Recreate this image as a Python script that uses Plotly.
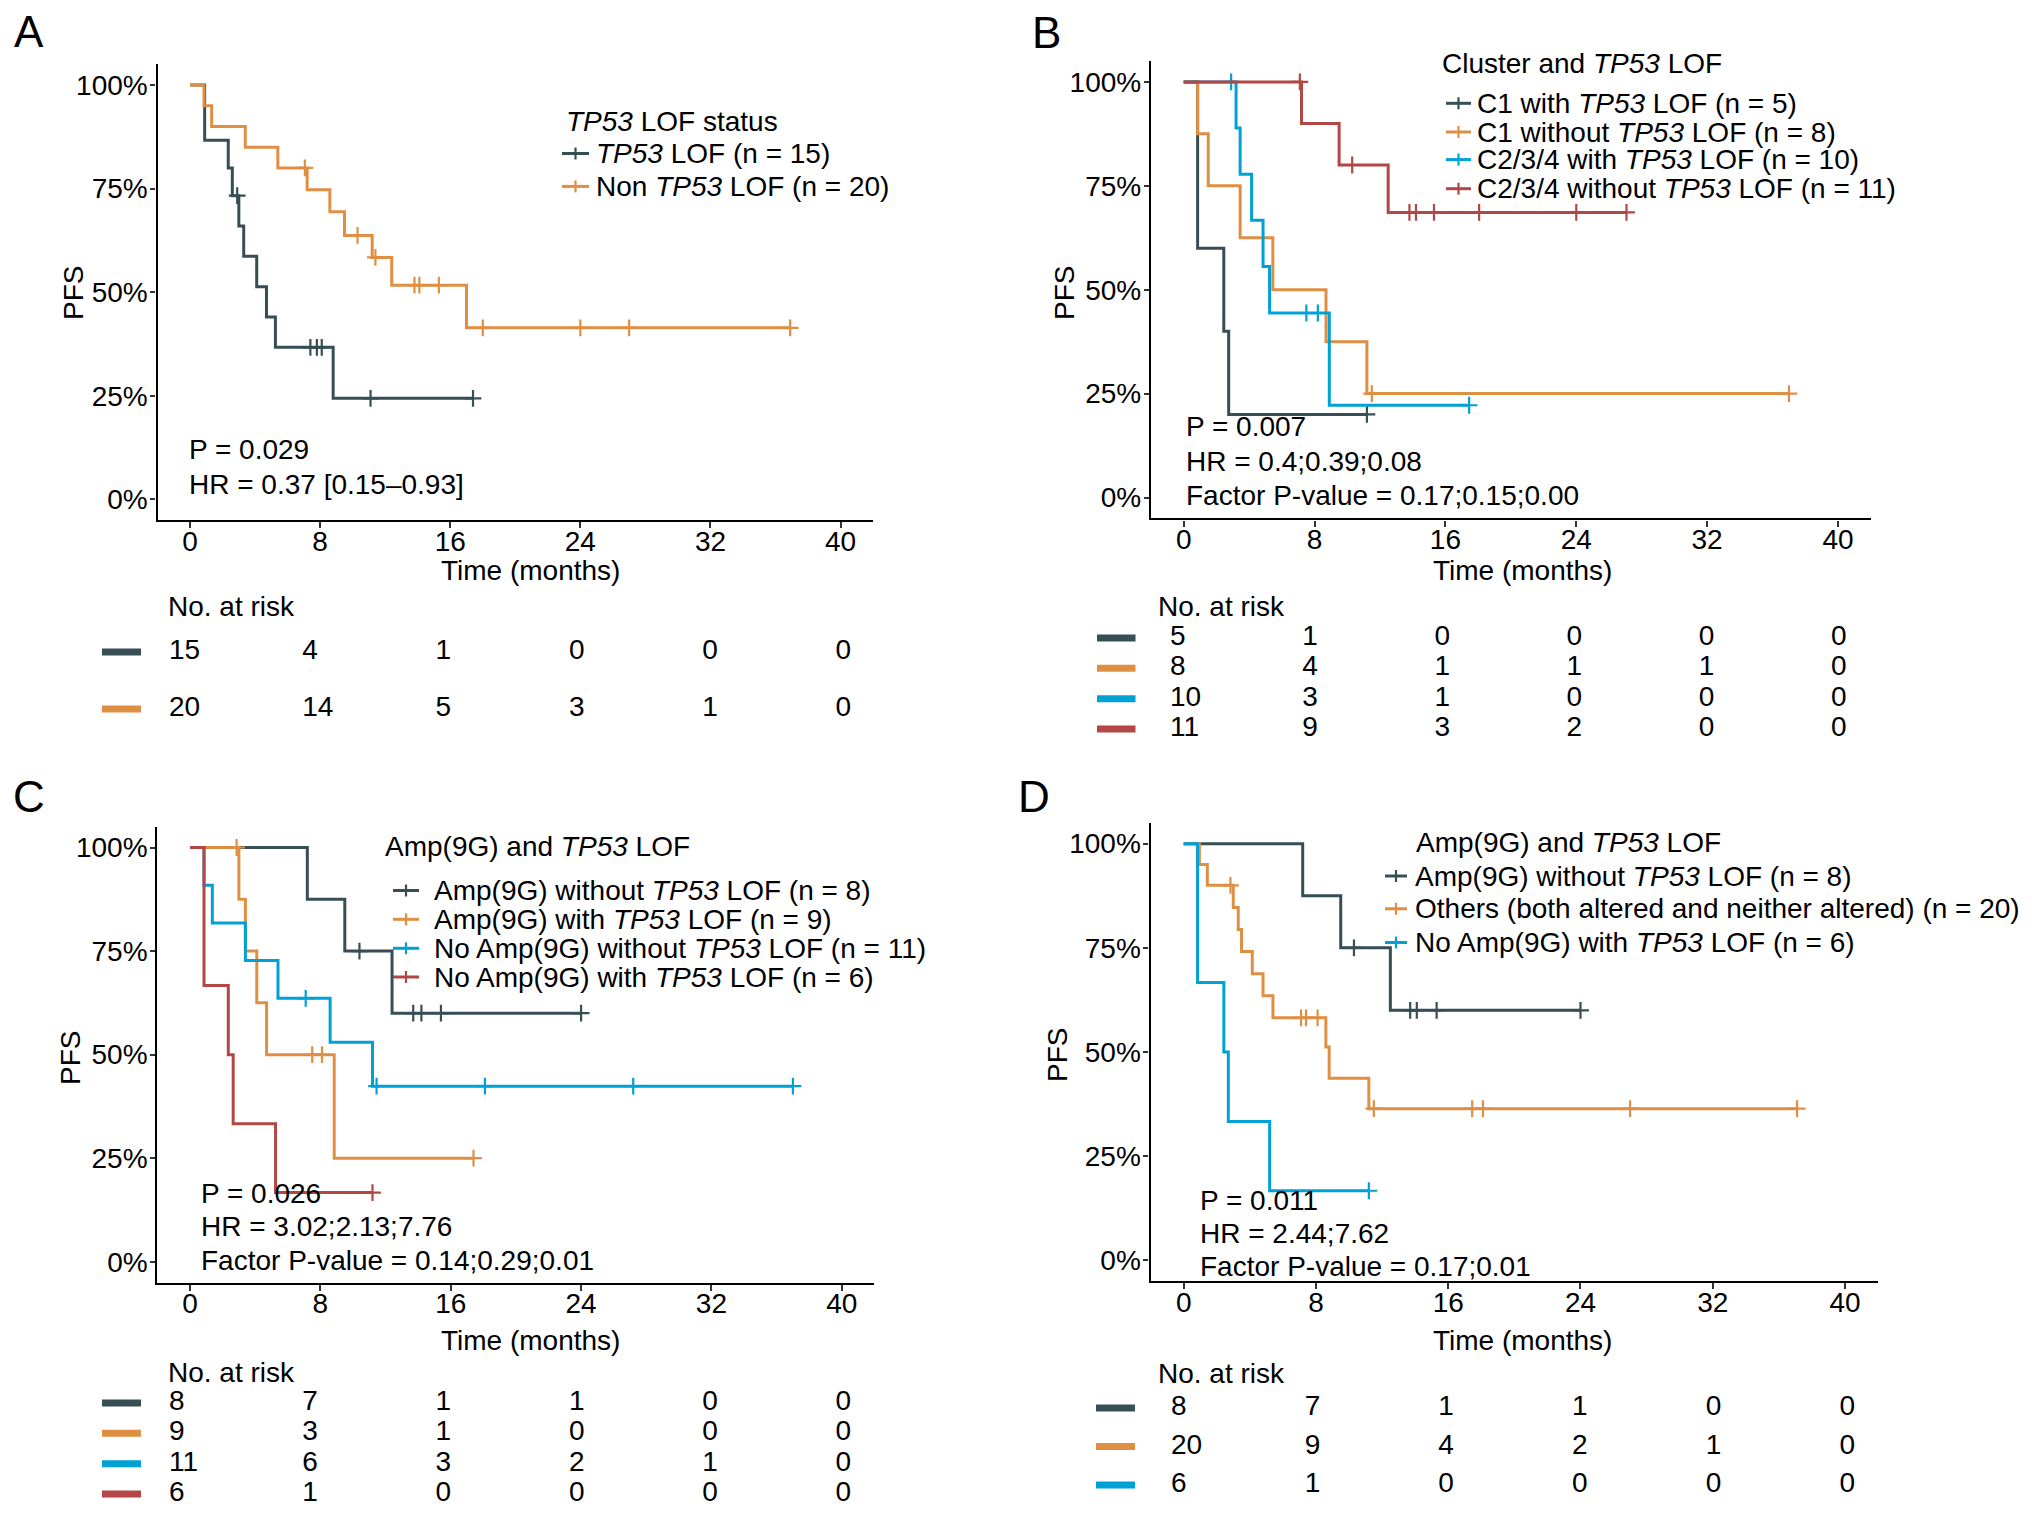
import plotly.graph_objects as go

# ---------------- DATA ----------------
COLORS = ["#374E55", "#DF8F44", "#00A1D5", "#B24745"]
TIME_TICKS = [0, 8, 16, 24, 32, 40]
PCT_TICKS = [0, 0.25, 0.5, 0.75, 1.0]
PCT_LABELS = ["0%", "25%", "50%", "75%", "100%"]

# Panel A
A_names = ["<i>TP53</i> LOF (n = 15)", "Non <i>TP53</i> LOF (n = 20)"]
A_t = [[0, 0.9, 2.35, 2.6, 3.0, 3.3, 4.1, 4.7, 5.25, 8.8, 17.4],
       [0, 0.86, 1.33, 3.4, 5.4, 7.2, 8.6, 9.5, 11.2, 12.4, 17.0, 36.9]]
A_s = [[1, 0.867, 0.80, 0.733, 0.66, 0.587, 0.513, 0.44, 0.367, 0.244, 0.244],
       [1, 0.95, 0.90, 0.85, 0.80, 0.747, 0.694, 0.637, 0.584, 0.517, 0.414, 0.414]]
A_ct = [[2.9, 7.4, 7.8, 8.1, 11.1, 17.4],
        [7.06, 10.3, 11.4, 13.8, 14.1, 15.3, 18.0, 24.0, 27.0, 36.9]]
A_cs = [[0.733, 0.367, 0.367, 0.367, 0.244, 0.244],
        [0.80, 0.637, 0.584, 0.517, 0.517, 0.517, 0.414, 0.414, 0.414, 0.414]]
A_risk = [[15, 4, 1, 0, 0, 0], [20, 14, 5, 3, 1, 0]]
A_stats = ["P = 0.029", "HR = 0.37 [0.15\u20130.93]"]
A_title = "<i>TP53</i> LOF status"

# Panel B
B_names = ["C1 with <i>TP53</i> LOF (n = 5)", "C1 without <i>TP53</i> LOF (n = 8)",
           "C2/3/4 with <i>TP53</i> LOF (n = 10)", "C2/3/4 without <i>TP53</i> LOF (n = 11)"]
B_t = [[0, 0.85, 2.45, 2.75, 11.2],
       [0, 0.85, 1.5, 3.45, 5.45, 8.7, 11.2, 37.0],
       [0, 3.2, 3.45, 4.15, 4.85, 5.25, 8.9, 17.45],
       [0, 7.2, 9.5, 12.5, 27.07]]
B_s = [[1, 0.6, 0.4, 0.2, 0.2],
       [1, 0.875, 0.75, 0.625, 0.5, 0.375, 0.25, 0.25],
       [1, 0.889, 0.778, 0.667, 0.556, 0.444, 0.222, 0.222],
       [1, 0.9, 0.8, 0.686, 0.686]]
B_ct = [[11.2], [11.5, 37.0], [2.9, 7.5, 8.2, 17.45],
        [7.1, 10.3, 13.8, 14.2, 15.3, 18.06, 24.0, 27.07]]
B_cs = [[0.2], [0.25, 0.25], [1.0, 0.444, 0.444, 0.222],
        [1.0, 0.8, 0.686, 0.686, 0.686, 0.686, 0.686, 0.686]]
B_risk = [[5, 1, 0, 0, 0, 0], [8, 4, 1, 1, 1, 0], [10, 3, 1, 0, 0, 0], [11, 9, 3, 2, 0, 0]]
B_stats = ["P = 0.007", "HR = 0.4;0.39;0.08", "Factor P-value = 0.17;0.15;0.00"]
B_title = "Cluster and <i>TP53</i> LOF"

# Panel C
C_names = ["Amp(9G) without <i>TP53</i> LOF (n = 8)", "Amp(9G) with <i>TP53</i> LOF (n = 9)",
           "No Amp(9G) without <i>TP53</i> LOF (n = 11)", "No Amp(9G) with <i>TP53</i> LOF (n = 6)"]
C_t = [[0, 7.2, 9.5, 12.4, 24.0],
       [0, 3.0, 3.4, 4.1, 4.7, 8.85, 17.4],
       [0, 0.86, 1.37, 3.4, 5.4, 8.6, 11.2, 37.0],
       [0, 0.86, 2.35, 2.65, 5.25, 11.2]]
C_s = [[1, 0.875, 0.75, 0.60, 0.60],
       [1, 0.875, 0.75, 0.625, 0.5, 0.25, 0.25],
       [1, 0.909, 0.818, 0.727, 0.636, 0.530, 0.424, 0.424],
       [1, 0.667, 0.5, 0.333, 0.167, 0.167]]
C_ct = [[10.4, 13.7, 14.2, 15.4, 24.0], [2.86, 7.5, 8.1, 17.4],
        [7.1, 11.45, 18.1, 27.2, 37.0], [11.2]]
C_cs = [[0.75, 0.6, 0.6, 0.6, 0.6], [1.0, 0.5, 0.5, 0.25],
        [0.636, 0.424, 0.424, 0.424, 0.424], [0.167]]
C_risk = [[8, 7, 1, 1, 0, 0], [9, 3, 1, 0, 0, 0], [11, 6, 3, 2, 1, 0], [6, 1, 0, 0, 0, 0]]
C_stats = ["P = 0.026", "HR = 3.02;2.13;7.76", "Factor P-value = 0.14;0.29;0.01"]
C_title = "Amp(9G) and <i>TP53</i> LOF"

# Panel D
D_names = ["Amp(9G) without <i>TP53</i> LOF (n = 8)",
           "Others (both altered and neither altered) (n = 20)",
           "No Amp(9G) with <i>TP53</i> LOF (n = 6)"]
D_t = [[0, 7.2, 9.5, 12.5, 24.0],
       [0, 0.95, 1.43, 3.0, 3.3, 3.5, 4.15, 4.8, 5.4, 8.6, 8.8, 11.2, 37.1],
       [0, 0.84, 2.43, 2.7, 5.2, 11.2]]
D_s = [[1, 0.875, 0.75, 0.60, 0.60],
       [1, 0.95, 0.90, 0.847, 0.794, 0.741, 0.688, 0.635, 0.582, 0.512, 0.437, 0.364, 0.364],
       [1, 0.667, 0.5, 0.333, 0.167, 0.167]]
D_ct = [[10.3, 13.7, 14.1, 15.3, 24.0],
        [2.83, 7.1, 7.4, 8.1, 11.5, 17.45, 18.1, 27.0, 37.1],
        [11.2]]
D_cs = [[0.75, 0.6, 0.6, 0.6, 0.6],
        [0.9, 0.582, 0.582, 0.582, 0.364, 0.364, 0.364, 0.364, 0.364],
        [0.167]]
D_risk = [[8, 7, 1, 1, 0, 0], [20, 9, 4, 2, 1, 0], [6, 1, 0, 0, 0, 0]]
D_stats = ["P = 0.011", "HR = 2.44;7.62", "Factor P-value = 0.17;0.01"]
D_title = "Amp(9G) and <i>TP53</i> LOF"

# ---------------- LAYOUT HELPERS ----------------
W, H = 2032, 1513
FONT = "Liberation Sans, Arial, Helvetica, sans-serif"
FS = 28


def px(x):
    return x / W


def py(y):
    return 1 - y / H


panels = [
    dict(letter="A", lp=(28.7, 31), t=A_t, s=A_s, ct=A_ct, cs=A_cs, names=A_names, risk=A_risk,
         stats=A_stats, title=A_title,
         xdom=(157.5, 873.1), ydom=(64.3, 520.1),
         stat_x=187, stat_y=[449.7, 484.0],
         leg_title=(564, 121.7), leg_y=[153.5, 186.4], leg_sym=(562, 589), leg_text=594,
         pfs=(73, 293), xt=(530, 570), nar=(165.5, 607),
         risk_rows=[652, 709], risk_x0=169, risk_x40=835.5, bar=(102, 141)),
    dict(letter="B", lp=(1046, 32), t=B_t, s=B_s, ct=B_ct, cs=B_cs, names=B_names, risk=B_risk,
         stats=B_stats, title=B_title,
         xdom=(1151, 1870.7), ydom=(61.1, 518.3),
         stat_x=1184.3, stat_y=[427.0, 461.0, 495.0],
         leg_title=(1439.8, 63), leg_y=[103.3, 132, 159.6, 188.7], leg_sym=(1446, 1471), leg_text=1475.3,
         pfs=(1064, 293), xt=(1522, 570), nar=(1156, 607),
         risk_rows=[638, 668, 699, 729], risk_x0=1170, risk_x40=1831, bar=(1097, 1135.5)),
    dict(letter="C", lp=(28.7, 796), t=C_t, s=C_s, ct=C_ct, cs=C_cs, names=C_names, risk=C_risk,
         stats=C_stats, title=C_title,
         xdom=(157.4, 874.4), ydom=(826.8, 1282.5),
         stat_x=199, stat_y=[1193.0, 1226.0, 1260.0],
         leg_title=(383, 846.8), leg_y=[890.5, 919.3, 948.3, 977], leg_sym=(393, 419), leg_text=432.4,
         pfs=(70, 1058), xt=(530, 1340), nar=(165.5, 1372),
         risk_rows=[1403, 1433, 1463, 1494], risk_x0=169, risk_x40=835.5, bar=(102, 141)),
    dict(letter="D", lp=(1034, 796), t=D_t, s=D_s, ct=D_ct, cs=D_cs, names=D_names, risk=D_risk,
         stats=D_stats, title=D_title,
         xdom=(1150.6, 1878.1), ydom=(822.8, 1281.2),
         stat_x=1197.5, stat_y=[1200.0, 1233.5, 1266.0],
         leg_title=(1413.6, 842.6), leg_y=[876, 908.8, 942.5], leg_sym=(1385, 1407), leg_text=1413.4,
         pfs=(1057, 1055), xt=(1522, 1340), nar=(1156, 1373),
         risk_rows=[1408, 1447, 1485], risk_x0=1171, risk_x40=1839.4, bar=(1096, 1135)),
]

fig = go.Figure()
layout = dict(
    width=W, height=H, margin=dict(l=0, r=0, t=0, b=0),
    paper_bgcolor="white", plot_bgcolor="white", showlegend=False,
    font=dict(family=FONT, size=FS, color="black"),
)
annotations = []
shapes = []

for i, p in enumerate(panels):
    k = i + 1
    r = i + 5
    xa_main = "x" if k == 1 else f"x{k}"
    ya_main = "y" if k == 1 else f"y{k}"
    xa_r, ya_r = f"x{r}", f"y{r}"
    xkey = "xaxis" if k == 1 else f"xaxis{k}"
    ykey = "yaxis" if k == 1 else f"yaxis{k}"

    layout[xkey] = dict(
        domain=[px(p["xdom"][0]), px(p["xdom"][1])], range=[-2, 42], anchor=ya_main,
        showgrid=False, zeroline=False, showline=True, linecolor="black", linewidth=2.4,
        ticks="outside", ticklen=6, tickwidth=2, tickcolor="#333333", ticklabelstandoff=-11,
        tickvals=TIME_TICKS, tickfont=dict(size=FS, color="black", family=FONT), fixedrange=True)
    layout[ykey] = dict(
        domain=[py(p["ydom"][1]), py(p["ydom"][0])], range=[-0.05, 1.05], anchor=xa_main,
        showgrid=False, zeroline=False, showline=True, linecolor="black", linewidth=2.4,
        ticks="outside", ticklen=5, tickwidth=2, tickcolor="#333333", ticklabelstandoff=-3,
        tickvals=PCT_TICKS, ticktext=PCT_LABELS,
        tickfont=dict(size=FS, color="black", family=FONT), fixedrange=True)

    # curves
    for j in range(len(p["t"])):
        c = COLORS[j]
        fig.add_trace(go.Scatter(
            x=p["t"][j], y=p["s"][j], mode="lines", line=dict(color=c, width=3, shape="hv"),
            xaxis=xa_main, yaxis=ya_main, hoverinfo="skip", showlegend=False))
        fig.add_trace(go.Scatter(
            x=p["ct"][j], y=p["cs"][j], mode="markers",
            marker=dict(symbol="cross-thin", size=12, color=c, line=dict(width=2.2, color=c)),
            xaxis=xa_main, yaxis=ya_main, hoverinfo="skip", showlegend=False))

    # risk table
    nrows = len(p["risk"])
    rows = p["risk_rows"]
    sp = (rows[-1] - rows[0]) / (nrows - 1)
    slope = (p["risk_x40"] - p["risk_x0"]) / 40.0
    xr0 = (p["xdom"][0] - p["risk_x0"]) / slope
    xr1 = (p["xdom"][1] - p["risk_x0"]) / slope
    layout[f"xaxis{r}"] = dict(domain=[px(p["xdom"][0]), px(p["xdom"][1])], range=[xr0, xr1],
                              anchor=ya_r, visible=False, fixedrange=True)
    layout[f"yaxis{r}"] = dict(domain=[py(rows[-1] + sp / 2), py(rows[0] - sp / 2)],
                              range=[nrows + 0.5, 0.5], anchor=xa_r, visible=False, fixedrange=True)
    for j in range(nrows):
        fig.add_trace(go.Scatter(
            x=TIME_TICKS, y=[j + 1] * len(TIME_TICKS), mode="text",
            text=[str(v) for v in p["risk"][j]], textposition="middle right",
            textfont=dict(size=FS, color="black", family=FONT),
            xaxis=xa_r, yaxis=ya_r, hoverinfo="skip", showlegend=False))
        shapes.append(dict(type="line", xref="paper", yref=ya_r,
                           x0=px(p["bar"][0]), x1=px(p["bar"][1]), y0=j + 1, y1=j + 1,
                           line=dict(color=COLORS[j], width=7)))

    # legend (manual, ggplot style)
    annotations.append(dict(text=p["title"], x=px(p["leg_title"][0]), y=py(p["leg_title"][1]),
                            xref="paper", yref="paper", xanchor="left", yanchor="middle",
                            showarrow=False, font=dict(size=FS, family=FONT, color="black")))
    for j, nm in enumerate(p["names"]):
        yy = p["leg_y"][j]
        x0, x1 = p["leg_sym"]
        cx = (x0 + x1) / 2
        shapes.append(dict(type="line", xref="paper", yref="paper",
                           x0=px(x0), x1=px(x1), y0=py(yy), y1=py(yy),
                           line=dict(color=COLORS[j], width=3)))
        shapes.append(dict(type="line", xref="paper", yref="paper",
                           x0=px(cx), x1=px(cx), y0=py(yy - 6), y1=py(yy + 6),
                           line=dict(color=COLORS[j], width=2.2)))
        annotations.append(dict(text=nm, x=px(p["leg_text"]), y=py(yy), xref="paper", yref="paper",
                                xanchor="left", yanchor="middle", showarrow=False,
                                font=dict(size=FS, family=FONT, color="black")))

    # stats text
    for txt, yy in zip(p["stats"], p["stat_y"]):
        annotations.append(dict(text=txt, x=px(p["stat_x"]), y=py(yy), xref="paper", yref="paper",
                                xanchor="left", yanchor="middle", showarrow=False,
                                font=dict(size=FS, family=FONT, color="black")))

    # axis titles, labels
    annotations.append(dict(text="PFS", x=px(p["pfs"][0]), y=py(p["pfs"][1]), xref="paper",
                            yref="paper", textangle=-90, showarrow=False,
                            xanchor="center", yanchor="middle",
                            font=dict(size=FS, family=FONT, color="black")))
    annotations.append(dict(text="Time (months)", x=px(p["xt"][0]), y=py(p["xt"][1]), xref="paper",
                            yref="paper", showarrow=False, xanchor="center", yanchor="middle",
                            font=dict(size=FS, family=FONT, color="black")))
    annotations.append(dict(text="No. at risk", x=px(p["nar"][0]), y=py(p["nar"][1]), xref="paper",
                            yref="paper", showarrow=False, xanchor="left", yanchor="middle",
                            font=dict(size=FS, family=FONT, color="black")))
    annotations.append(dict(text=p["letter"], x=px(p["lp"][0]), y=py(p["lp"][1]), xref="paper",
                            yref="paper", showarrow=False, xanchor="center", yanchor="middle",
                            font=dict(size=44, family=FONT, color="black")))

layout["annotations"] = annotations
layout["shapes"] = shapes
fig.update_layout(**layout)
fig.write_html("out.html")
